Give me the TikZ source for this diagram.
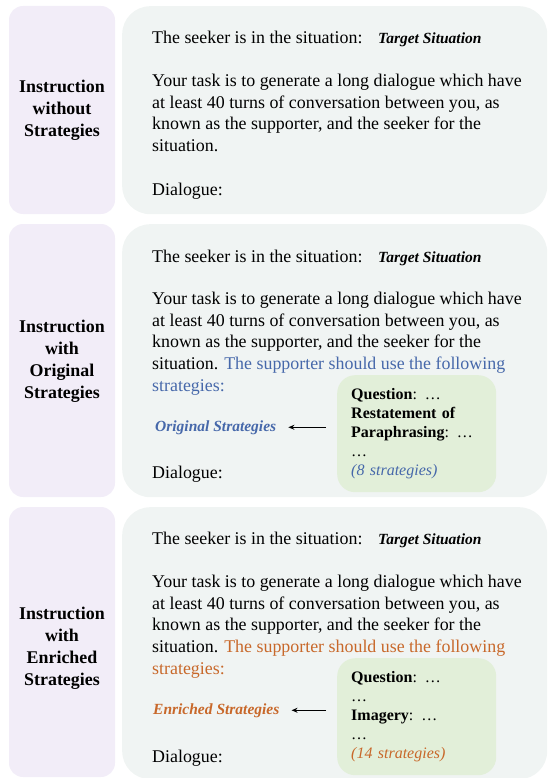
\documentclass[tikz,border=0pt]{standalone}
\usepackage{fontspec}
\setmainfont{Liberation Serif}
\usetikzlibrary{arrows.meta}
\definecolor{lavender}{RGB}{242,237,248}
\definecolor{panelgray}{RGB}{240,244,243}
\definecolor{stratgreen}{RGB}{226,239,217}
\definecolor{origblue}{RGB}{70,104,170}
\definecolor{richorange}{RGB}{200,104,42}
\tikzset{
  lbox/.style={fill=lavender, rounded corners=14pt, minimum width=106pt, inner sep=0pt},
  labtxt/.style={align=center, font=\fontsize{17.9}{22}\selectfont\bfseries, inner sep=0pt},
  rbox/.style={fill=panelgray, rounded corners=28pt, minimum width=425pt, anchor=north west, inner sep=0pt},
  txt/.style={anchor=base west, align=left, inner sep=0pt},
  para/.style={anchor=north west, align=left, inner sep=0pt},
  tgt/.style={anchor=base west, inner sep=0pt, font=\fontsize{15.5}{19}\selectfont\bfseries\itshape},
  gbox/.style={anchor=north west, fill=stratgreen, rounded corners=18pt, minimum width=159pt,
    minimum height=117pt, text width=131pt, inner xsep=14pt, align=left,
    font=\fontsize{16}{19}\selectfont},
  pointer/.style={-{Stealth[length=6pt,width=5pt]}, line width=1.2pt, shorten <=11pt, shorten >=12pt}
}
\begin{document}
\begin{tikzpicture}[x=1pt, y=-1pt, font=\fontsize{17.9}{21.7}\selectfont]
\useasboundingbox (0,0) rectangle (547,778);

% panel 1: no strategies
\node[rbox, minimum height=208pt] (pan1) at (122,6) {};
\node[lbox, minimum height=208pt] (lab1) at (62,110) {};
\node[labtxt] (labtxt1) at (62,110) {Instruction\\without\\Strategies};
\node[txt] (seek1) at (152,44) {The seeker is in the situation:};
\node[tgt] (tgt1) at (378,44) {Target Situation};
\node[para] (task1) at (152,73.8) {Your task is to generate a long dialogue which have\\at least 40 turns of conversation between you, as\\known as the supporter, and the seeker for the\\situation.};
\node[txt] (dia1) at (152,195) {Dialogue:};

% panel 2: original strategies
\node[rbox, minimum height=273pt] (pan2) at (122,224) {};
\node[lbox, minimum height=273pt] (lab2) at (62,360.5) {};
\node[labtxt] (labtxt2) at (62,361) {Instruction\\with\\Original\\Strategies};
\node[txt] (seek2) at (152,262) {The seeker is in the situation:};
\node[tgt] (tgt2) at (378,262) {Target Situation};
\node[para] (task2) at (152,291.8) {Your task is to generate a long dialogue which have\\at least 40 turns of conversation between you, as\\known as the supporter, and the seeker for the\\situation. \textcolor{origblue}{The supporter should use the following}\\\textcolor{origblue}{strategies:}};
\node[tgt, text=origblue] (orig) at (155,431) {Original Strategies};
\node[gbox] (grn2) at (337,375) {\textbf{Question}: …\\\textbf{Restatement of}\\\textbf{Paraphrasing}: …\\…\\\textcolor{origblue}{\itshape (8 strategies)}};
\draw[pointer] (grn2.west |- orig.east) -- (orig.east);
\node[txt] (dia2) at (152,478) {Dialogue:};

% panel 3: enriched strategies
\node[rbox, minimum height=272pt] (pan3) at (122,507) {};
\node[lbox, minimum height=270pt] (lab3) at (62,642) {};
\node[labtxt] (labtxt3) at (62,648) {Instruction\\with\\Enriched\\Strategies};
\node[txt] (seek3) at (152,544) {The seeker is in the situation:};
\node[tgt] (tgt3) at (378,544) {Target Situation};
\node[para] (task3) at (152,574.8) {Your task is to generate a long dialogue which have\\at least 40 turns of conversation between you, as\\known as the supporter, and the seeker for the\\situation. \textcolor{richorange}{The supporter should use the following}\\\textcolor{richorange}{strategies:}};
\node[tgt, text=richorange] (rich) at (153,714) {Enriched Strategies};
\node[gbox] (grn3) at (337,658) {\textbf{Question}: …\\…\\\textbf{Imagery}: …\\…\\\textcolor{richorange}{\itshape (14 strategies)}};
\draw[pointer] (grn3.west |- rich.east) -- (rich.east);
\node[txt] (dia3) at (152,762) {Dialogue:};
\end{tikzpicture}
\end{document}
